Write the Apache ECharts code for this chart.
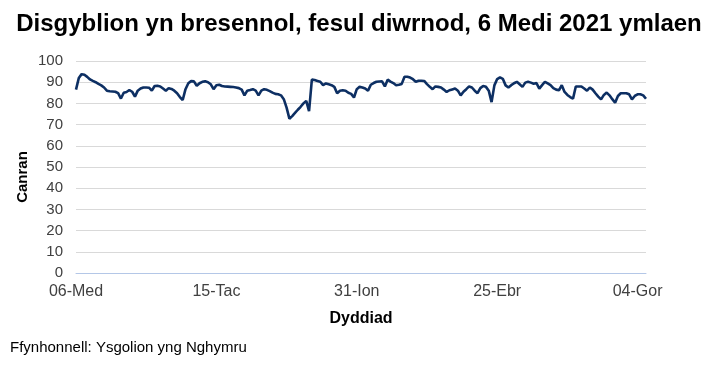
<!DOCTYPE html>
<html><head><meta charset="utf-8">
<script src="https://cdn.jsdelivr.net/npm/echarts@6/dist/echarts.min.js"></script>
<style>html,body{margin:0;padding:0;background:#fff}#c{width:718px;height:369px}</style>
</head><body><div id="c"></div>
<script>
// School-day categories (weekdays from 6 Sept 2021, holiday weeks removed)
const startDate = "2021-09-06";
const holidayRanges = [["2021-12-27","2021-12-31"],["2022-04-11","2022-04-22"]];
const monthNames = ["Ion","Chw","Maw","Ebr","Mai","Meh","Gor","Aws","Med","Hyd","Tac","Rha"];
const yTicks = [0,10,20,30,40,50,60,70,80,90,100];
const values = [
86.5,92,93.8,93.5,92.5,91.3,90.6,90,89.2,88.5,
87.5,86,85.7,85.6,85.5,84.8,82.3,85,85.4,86.3,
85.5,83.2,86,87,87.5,87.5,87.4,86,88.2,88.3,
88,87,86,87.2,86.8,86,84.8,83,81.6,86.7,
89.5,90.5,90.4,88.3,89.5,90.2,90.4,90,89,86.7,
88.6,88.8,88.2,88,87.9,87.8,87.7,87.5,87.2,86.5,
83.8,86,86.3,86.7,86,83.8,86,86.7,86.4,85.8,
85.1,84.5,84.3,83.8,82,78,72.8,74,75.5,77,
78.4,80,81.2,76.3,91.2,91,90.6,90.2,88.6,89.4,
89,88.6,87.8,84.8,86,86.2,86,85,84.5,82.8,
86.7,87.8,87.5,87,86,88.8,89.6,90.2,90.3,90.4,
88,91.2,90.3,89.6,88.6,88.8,89.2,92.6,92.6,92.2,
91.4,90.2,90.7,90.7,90.6,89.1,87.8,86.7,88,87.8,
87.5,86.5,85.4,86.2,86.6,87,86,83.8,85.5,86.7,
88,87.5,86,84.8,87.2,88.2,87.8,86,80.6,88.5,
91.5,92.3,91.6,88.5,87.5,88.6,89.5,90.2,89,87.8,
89.8,90.2,89.8,89.3,89.6,87,88.6,90.2,89.4,88.6,
87.2,86.5,86.2,88.6,85.4,84,83,82.2,88,88,
88,87,86,87.5,86.5,84.8,83.2,81.9,84,85.1,
83.8,82,80.3,83.5,84.8,84.8,84.8,84.3,81.9,83.5,
84.3,84.3,83.8,82.2
];

function buildCategories(n){
  const out=[]; const d=new Date(startDate+"T12:00:00Z");
  const hol=holidayRanges.map(r=>[new Date(r[0]+"T00:00:00Z"),new Date(r[1]+"T23:59:59Z")]);
  while(out.length<n){
    const wd=d.getUTCDay();
    const inHol=hol.some(h=>d>=h[0]&&d<=h[1]);
    if(wd!==0&&wd!==6&&!inHol){
      out.push(String(d.getUTCDate()).padStart(2,"0")+"-"+monthNames[d.getUTCMonth()]);
    }
    d.setUTCDate(d.getUTCDate()+1);
  }
  return out;
}
const categories = buildCategories(values.length);

const chart = echarts.init(document.getElementById('c'));
const font = "'Liberation Sans', Arial, sans-serif";
chart.setOption({
  animation:false,
  backgroundColor:'#fff',
  title:{text:'Disgyblion yn bresennol, fesul diwrnod, 6 Medi 2021 ymlaen',left:'center',top:7,
    textStyle:{fontFamily:font,fontSize:24,fontWeight:'bold',color:'#000'}},
  graphic:[
    {type:'text',left:10,top:340,style:{text:'Ffynhonnell: Ysgolion yng Nghymru',font:'15px '+font,fill:'#000'}},
    {type:'text',x:23,y:177,rotation:Math.PI/2,style:{text:'Canran',font:'bold 15px '+font,fill:'#000',align:'center',verticalAlign:'middle'}}
  ],
  grid:{left:76,right:72,top:61,bottom:96},
  xAxis:{type:'category',data:categories,boundaryGap:false,
    name:'Dyddiad',nameLocation:'middle',nameGap:38,
    nameTextStyle:{fontFamily:font,fontSize:16,fontWeight:'bold',color:'#000'},
    axisLine:{lineStyle:{color:'#b4c7e7'}},axisTick:{show:false},
    axisLabel:{interval:49,fontFamily:font,fontSize:16,color:'#404040',margin:11}},
  yAxis:{type:'value',min:0,max:100,interval:10,
    axisLine:{show:false},axisTick:{show:false},
    splitLine:{lineStyle:{color:'#d9d9d9'}},
    axisLabel:{fontFamily:font,fontSize:15,color:'#404040',margin:13,
      formatter:v=>yTicks.includes(v)?String(v):''}},
  series:[{type:'line',data:values,showSymbol:false,symbol:'none',
    lineStyle:{color:'#0d2f63',width:2.6},itemStyle:{color:'#0d2f63'}}]
});
</script></body></html>
